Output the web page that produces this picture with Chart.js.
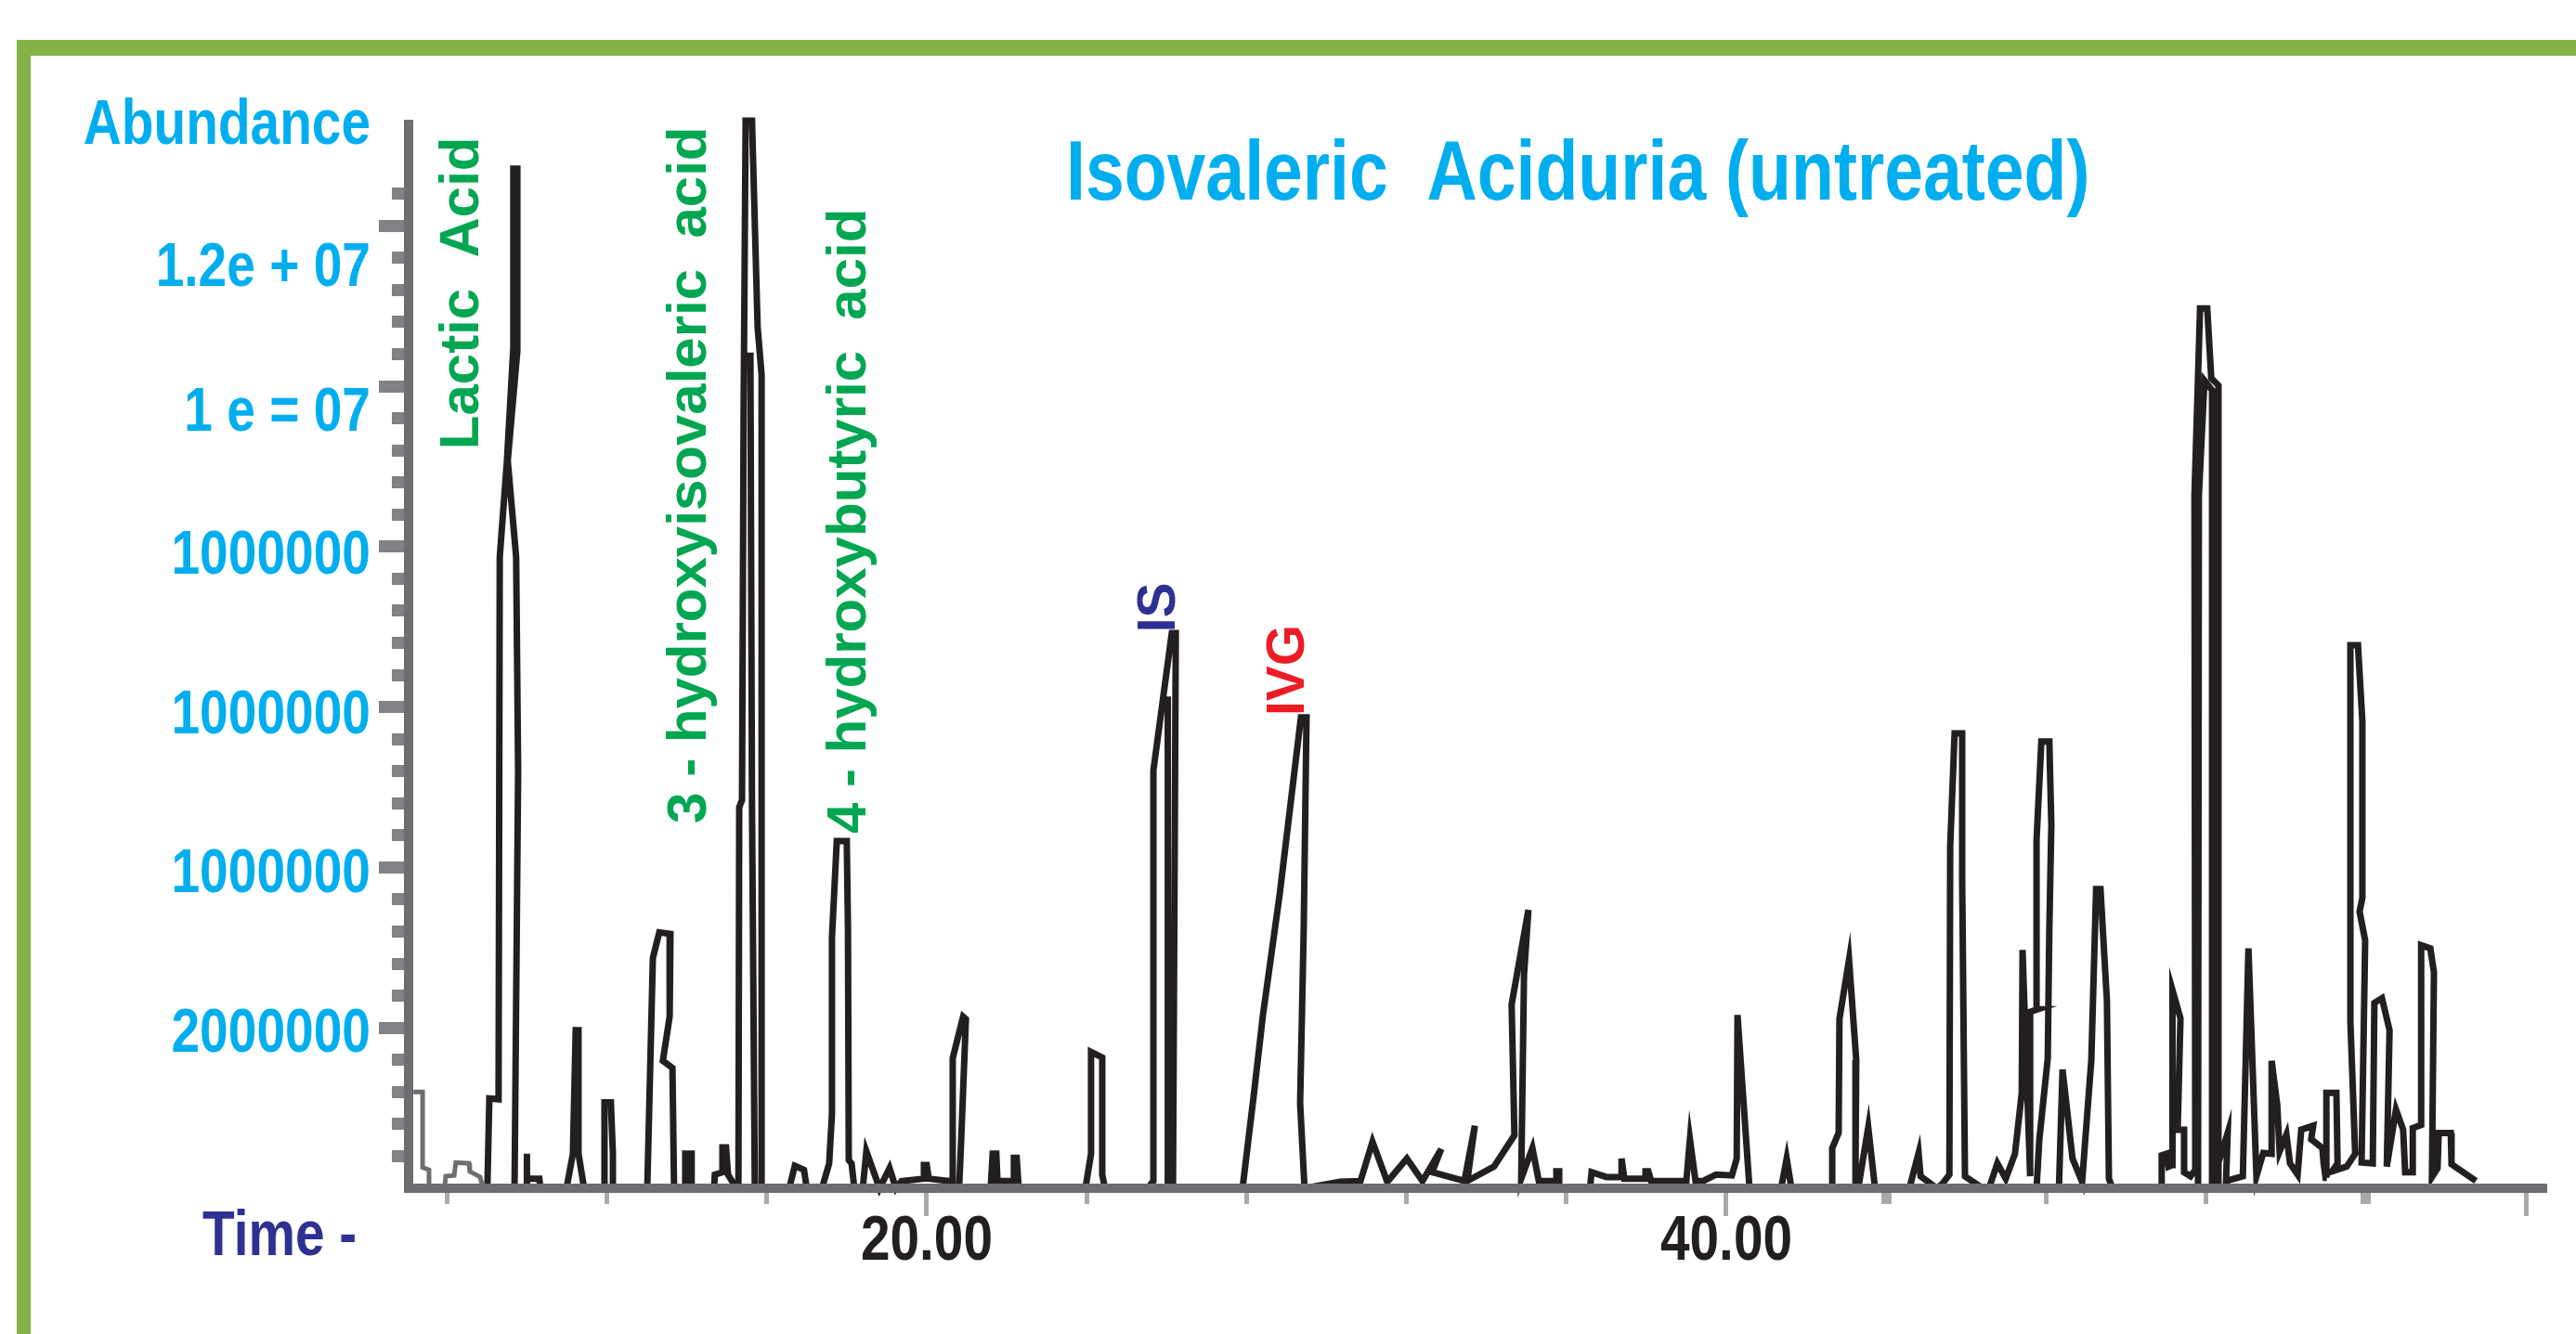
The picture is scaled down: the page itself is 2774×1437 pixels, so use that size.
<!DOCTYPE html>
<html><head><meta charset="utf-8">
<script src="https://cdn.jsdelivr.net/npm/chart.js@4.4.1/dist/chart.umd.min.js"></script>
<style>html,body{margin:0;padding:0;background:#fff;}#wrap{width:2774px;height:1437px;position:relative;}</style>
</head><body><div id="wrap"><canvas id="c" width="2774" height="1437"></canvas></div>
<script>
// ---- data: retention time (min) and abundance (millions) ----
const traceTime = [9.01,9.06,9.29,9.32,9.50,9.66,9.66,9.76,9.76,9.52,9.73,9.78,9.69,9.99,9.99,10.01,10.31,10.34,10.99,11.15,11.22,11.29,11.29,11.43,11.92,11.94,12.10,12.15,12.15,13.01,13.15,13.31,13.59,13.57,13.40,13.64,13.68,13.94,13.96,14.12,14.12,14.68,14.70,14.89,14.89,14.98,15.03,15.24,15.29,15.31,15.38,15.42,15.47,15.63,15.77,15.87,15.87,15.70,15.63,15.59,15.63,15.70,16.56,16.70,16.93,17.00,17.38,17.56,17.63,17.63,17.75,18.00,18.03,18.05,18.12,18.19,18.40,18.49,18.82,19.07,19.23,19.37,19.93,19.93,20.00,20.05,20.56,20.63,20.65,20.91,20.98,20.86,20.81,21.60,21.65,21.74,21.77,22.18,22.18,22.25,22.30,23.97,24.11,24.11,24.39,24.39,24.46,25.53,25.67,25.67,26.13,26.23,26.16,26.02,26.04,26.02,27.90,28.18,28.41,28.83,29.36,29.50,29.43,29.34,29.45,30.34,30.85,31.15,31.52,32.01,32.40,32.87,32.64,33.45,33.71,33.52,34.19,34.70,34.63,35.05,34.94,34.87,35.15,35.31,35.75,35.75,35.82,35.82,36.59,36.63,37.00,37.38,37.38,37.45,37.98,37.98,38.05,38.12,39.00,39.09,39.23,39.42,39.74,40.14,40.26,40.28,40.58,41.37,41.51,41.63,42.65,42.65,42.81,42.83,43.07,43.25,43.23,43.30,43.55,43.72,44.58,44.81,44.86,45.27,45.41,45.58,45.60,45.71,45.90,45.90,45.97,46.41,46.57,46.78,46.99,47.22,47.39,47.41,47.60,47.60,47.78,47.76,47.88,48.08,48.13,48.08,48.04,47.83,47.76,48.32,48.41,48.66,48.90,49.13,49.25,49.36,49.52,49.57,49.66,50.89,50.89,51.01,51.06,51.15,51.15,51.17,51.36,51.29,51.45,51.45,51.61,51.73,51.71,51.85,52.03,52.13,52.31,52.31,52.17,52.15,51.96,51.82,51.80,52.23,52.23,52.40,52.54,52.50,52.71,52.92,53.06,53.26,53.43,53.64,53.64,53.78,53.84,54.01,54.10,54.29,54.38,54.68,54.63,54.91,54.94,54.99,55.02,55.01,55.26,55.29,55.15,55.52,55.73,55.61,55.61,55.80,55.91,55.91,55.84,55.98,55.89,56.17,56.21,56.40,56.59,56.52,56.75,56.93,56.98,57.17,57.17,57.38,57.38,57.61,57.70,57.65,57.79,57.82,58.12,58.14,58.75];
const traceAbundance = [0,1.12,1.11,7.87,9.07,10.48,12.71,12.71,10.44,9.07,7.87,5.21,0,0,0.43,0.12,0.12,0,0,0.43,1.97,1.97,0.43,0,0,1.07,1.07,0.43,0,0,2.87,3.19,3.17,2.14,1.59,1.50,0,0,0.43,0.43,0,0,0.17,0.20,0.51,0.51,0.17,0,0,4.75,4.84,9.72,13.31,13.31,10.74,10.14,0,0,4.75,10.42,4.75,0,0,0.28,0.23,0,0,0.31,0.93,3.13,4.33,4.33,3.24,0.35,0.31,0,0,0.46,0,0.25,0,0.09,0.12,0.29,0.29,0.12,0.09,0,1.62,2.14,2.11,0.58,0,0,0.43,0.43,0.09,0.09,0.38,0.38,0,0,0.43,1.70,1.63,0.17,0,0,0.09,5.21,6.92,6.92,0,0,6.13,0,0,1.16,2.16,3.67,5.87,5.87,3.24,1.06,0,0.08,0.09,0.58,0.08,0.37,0.09,0.49,0.20,0.09,0.78,0.09,0.27,0.66,2.29,3.47,2.66,0.12,0.50,0.09,0.09,0.21,0.21,0,0,0.20,0.14,0.14,0.37,0.12,0.12,0.21,0.21,0.09,0.09,0.61,0.09,0.09,0.17,0.16,0.37,2.16,0,0,0.37,0,0,0.50,0.69,2.11,2.85,1.60,0,0,0.76,0,0,0.44,0.15,0,0.06,0.17,4.26,5.67,5.67,3.82,0.15,0,0,0.31,0.12,0.43,1.19,2.97,0.15,2.20,2.23,4.34,5.57,5.57,4.53,3.24,1.62,0.61,0,0,1.48,0.37,0.08,1.60,3.73,3.73,2.34,0.12,0,0,0.41,0.43,0.27,0.29,1.19,2.47,2.12,0.73,0.73,0.20,0.15,0.23,8.63,10.97,10.97,10.10,10.01,0,0,9.95,10.07,8.63,0,0,0.20,0.46,0.69,0.09,0.12,0.15,2.99,0.15,0.44,0.43,1.59,1.04,0.46,0.67,0.31,0.17,0.73,0.78,0.61,0.50,0.31,0.13,0.13,1.19,1.19,0.31,0.21,0.27,0.43,2.08,6.77,6.77,5.82,3.62,3.45,3.09,0.32,0.31,2.31,2.37,1.97,0.27,0.98,0.73,0.20,0.20,0.75,0.79,3.03,2.99,2.69,0.14,0.25,0.69,0.69,0.30,0.09];
const solventTime = [7.16,7.39,7.39,7.55,7.55,7.94,7.97,8.18,8.22,8.55,8.57,8.83,8.90];
const solventAbundance = [1.20,1.20,0.26,0.23,0,0,0.15,0.16,0.32,0.31,0.21,0.14,0];
const xTickValues = [8,12,16,20,24,28,32,36,40,44,48,52,56,60];
const xLabelValues = [20,40];
const xLabelTexts = ['20.00','40.00'];
const xMajorValues = [20,40,60];
const yTickValues = [0.4,0.8,1.2,1.6,2,2.4,2.8,3.2,3.6,4,4.4,4.8,5.2,5.6,6,6.4,6.8,7.2,7.6,8,8.4,8.8,9.2,9.6,10,10.4,10.8,11.2,11.6,12,12.4];
const yMajorValues = [2,4,6,8,10,12];
const yLabelValues = [1.97,3.97,5.94,7.93,9.72,11.52];
const yLabelTexts = ['2000000','1000000','1000000','1000000','1 e = 07','1.2e + 07'];
const peakNames = ['Lactic  Acid','3 - hydroxyisovaleric  acid','4 - hydroxybutyric  acid','IS','IVG'];

// ---- presentation ----
const SANS = "'Liberation Sans',Arial,'DejaVu Sans',sans-serif";
const NARROW_X = 0.835; // horizontal squeeze to imitate a condensed bold face
const peakLabelStyle = [
  {t:8.78, v:9.21, color:'#00a651', size:60},
  {t:14.47, v:4.55, color:'#00a651', size:60},
  {t:18.47, v:4.42, color:'#00a651', size:60},
  {t:26.20, v:6.93, color:'#2e3192', size:57},
  {t:29.43, v:5.89, color:'#ed1c24', size:57}
];
const isMajor = (list, v) => list.some(m => Math.abs(m - v) < 1e-6);

function narrowText(c, text, x, y, align, size, color) {
  c.save();
  c.translate(x, y);
  c.scale(NARROW_X, 1);
  c.font = `bold ${size}px ${SANS}`;
  c.fillStyle = color;
  c.textAlign = align;
  c.textBaseline = 'alphabetic';
  c.fillText(text, 0, 0);
  c.restore();
}

const decor = {
  id: 'decor',
  beforeDraw(chart) {
    const c = chart.ctx;
    c.save();
    c.fillStyle = '#ffffff'; c.fillRect(0, 0, chart.width, chart.height);
    c.fillStyle = '#86b146';
    c.fillRect(18, 43, chart.width - 18, 17);
    c.fillRect(18, 43, 15, chart.height - 43);
    c.restore();
  },
  afterDraw(chart) {
    const c = chart.ctx, xs = chart.scales.x, ys = chart.scales.y;
    narrowText(c, 'Isovaleric  Aciduria (untreated)', 1148, 215, 'left', 90, '#00aeef');
    narrowText(c, 'Abundance', 399, 155, 'right', 68, '#00aeef');
    narrowText(c, 'Time -', 218, 1352, 'left', 68, '#2e3192');
    yLabelValues.forEach((v, i) => {
      narrowText(c, yLabelTexts[i], 399, ys.getPixelForValue(v) + 0.358 * 66, 'right', 66, '#00aeef');
    });
    xLabelValues.forEach((v, i) => {
      narrowText(c, xLabelTexts[i], xs.getPixelForValue(v), 1357, 'center', 68, '#231f20');
    });
    peakNames.forEach((name, i) => {
      const s = peakLabelStyle[i];
      c.save();
      c.translate(xs.getPixelForValue(s.t), ys.getPixelForValue(s.v));
      c.rotate(-Math.PI / 2);
      c.fillStyle = s.color;
      c.font = `bold ${s.size}px ${SANS}`;
      c.textAlign = 'left';
      c.textBaseline = 'alphabetic';
      c.fillText(name, 0, 0);
      c.restore();
    });
  }
};

const yMax = 13.264;
new Chart(document.getElementById('c'), {
  type: 'scatter',
  data: {
    datasets: [
      { data: solventTime.map((t, i) => ({x: t, y: solventAbundance[i]})), showLine: true, borderColor: '#6d6e71', borderWidth: 5, pointRadius: 0, tension: 0, clip: 20 },
      { data: traceTime.map((t, i) => ({x: t, y: traceAbundance[i]})), showLine: true, borderColor: '#231f20', borderWidth: 7, pointRadius: 0, tension: 0, clip: 20 }
    ]
  },
  options: {
    responsive: false, animation: false, devicePixelRatio: 1,
    layout: { padding: { top: 134, right: 32, left: 408, bottom: 0 } },
    plugins: { legend: { display: false }, tooltip: { enabled: false }, title: { display: false } },
    scales: {
      x: {
        type: 'linear', position: 'bottom', min: 7.04, max: 60.51,
        afterBuildTicks: (s) => { s.ticks = xTickValues.map(v => ({value: v})); },
        afterFit: (s) => { s.height = 157; },
        grid: { display: true, drawOnChartArea: false, drawTicks: true, tickLength: 30, z: 1,
          tickColor: '#a7a9ac',
          tickWidth: (ctx) => (ctx.tick && (ctx.tick.value === 44 || ctx.tick.value === 56)) ? 11 : 5,
          tickBorderDash: (ctx) => (ctx.tick && isMajor(xMajorValues, ctx.tick.value)) ? [] : [12, 100] },
        border: { display: true, color: '#6d6e71', width: 10, z: 1 },
        ticks: { display: false }
      },
      y: {
        type: 'linear', position: 'left', min: 0, max: yMax,
        afterBuildTicks: (s) => { s.ticks = yTickValues.map(v => ({value: v})); },
        afterFit: (s) => { s.width = 32; },
        grid: { display: true, drawOnChartArea: false, drawTicks: true, tickLength: 32, z: 1,
          tickColor: '#808285', tickWidth: 13,
          tickBorderDash: (ctx) => (ctx.tick && isMajor(yMajorValues, ctx.tick.value)) ? [] : [13, 100],
          tickBorderDashOffset: (ctx) => (ctx.tick && isMajor(yMajorValues, ctx.tick.value)) ? 0 : 99 },
        border: { display: true, color: '#6d6e71', width: 10, z: 1 },
        ticks: { display: false }
      }
    }
  },
  plugins: [decor]
});
</script></body></html>
